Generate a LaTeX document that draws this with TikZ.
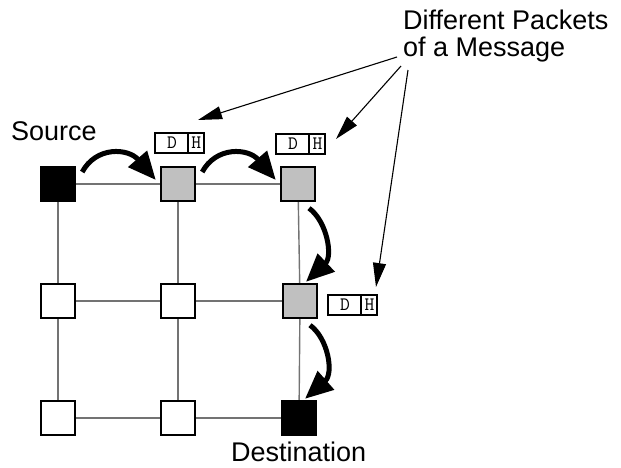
\documentclass[tikz,border=0pt]{standalone}
\usepackage{fontspec}
\setmainfont{Liberation Sans}
\usetikzlibrary{arrows.meta,backgrounds}

\definecolor{busygray}{RGB}{192,192,192}
\definecolor{linkgray}{RGB}{115,115,115}

\tikzset{
  router/.style={draw=black, line width=2.4pt, minimum size=34pt, inner sep=0pt},
  idle/.style={router, fill=white},
  busy/.style={router, fill=busygray},
  endpoint/.style={router, fill=black},
  link/.style={draw=linkgray, line width=1.4pt},
  packet/.style={draw=black, line width=1.8pt, inner sep=0pt, minimum height=20pt,
                 fill=white, font=\ttfamily\fontsize{19}{19}\selectfont},
  caption/.style={inner sep=0pt, font=\fontsize{27}{27}\selectfont},
  hop/.style={line width=5pt, -{Triangle[length=28pt,width=24pt]}},
  pointer/.style={line width=1.1pt, -{Triangle[length=24pt,width=13pt]}}
}

\begin{document}
\begin{tikzpicture}[x=1pt, y=-1pt]
  \useasboundingbox (0,0) rectangle (621,467);

  % routers of the 3x3 mesh
  \node[endpoint] (n11) at (58,184) {};
  \node[busy]     (n12) at (178,184) {};
  \node[busy]     (n13) at (298,184) {};
  \node[idle]     (n21) at (58,301) {};
  \node[idle]     (n22) at (178,301) {};
  \node[busy]     (n23) at (300,301) {};
  \node[idle]     (n31) at (58,418) {};
  \node[idle]     (n32) at (178,418) {};
  \node[endpoint] (n33) at (299,418) {};

  % mesh links, behind the routers
  \begin{scope}[on background layer]
    \draw[link] (n11) -- (n12) -- (n13);
    \draw[link] (n21) -- (n22) -- (n23);
    \draw[link] (n31) -- (n32) -- (n33);
    \draw[link] (n11) -- (n21) -- (n31);
    \draw[link] (n12) -- (n22) -- (n32);
    \draw[link] (n13) -- (n23) -- (n33);
  \end{scope}

  % packets: data part and header part
  \node[packet, anchor=north west] (pk1) at (154,132) {\makebox[34pt]{D}\makebox[15pt]{H}};
  \node[packet, anchor=north west] (pk2) at (275,133) {\makebox[34pt]{D}\makebox[15pt]{H}};
  \node[packet, anchor=north west] (pk3) at (327,294) {\makebox[34pt]{D}\makebox[15pt]{H}};
  \foreach \p in {pk1,pk2,pk3}
    \draw[line width=1.2pt] ([xshift=34pt]\p.north west) -- ([xshift=34pt]\p.south west);

  % labels
  \node[caption, anchor=base west] (src) at (11,140) {Source};
  \node[caption, anchor=base west] (dst) at (231,461.5) {Destination};
  \node[caption, anchor=base west] (msgA) at (403,29.5) {Different Packets};
  \node[caption, anchor=base west] (msgB) at (403,56.5) {of a Message};

  % pointers from the label to the packets
  \coordinate (m1) at (397,57);
  \coordinate (m2) at (401,66);
  \coordinate (m3) at (408,70);
  \coordinate (t1) at (198,120);
  \coordinate (t2) at (336,139);
  \coordinate (t3) at (376,287);
  \draw[pointer] (m1) -- (t1);
  \draw[pointer] (m2) -- (t2);
  \draw[pointer] (m3) -- (t3);

  % hops of the packets along the route
  \draw[hop] ([shift={(6,-12)}]n11.east) .. controls ([shift={(20,-38)}]n11.east) and ([shift={(52,-36)}]n11.east) .. ([shift={(-4,-4)}]n12.west);
  \draw[hop] ([shift={(6,-12)}]n12.east) .. controls ([shift={(20,-38)}]n12.east) and ([shift={(52,-36)}]n12.east) .. ([shift={(-4,-4)}]n13.west);
  \draw[hop] ([shift={(11,6)}]n13.south) .. controls ([shift={(29,19)}]n13.south) and ([shift={(35,54)}]n13.south) .. ([shift={(6,-1)}]n23.north);
  \draw[hop] ([shift={(10,6)}]n23.south) .. controls ([shift={(28,19)}]n23.south) and ([shift={(34,54)}]n23.south) .. ([shift={(6,-1)}]n33.north);
\end{tikzpicture}
\end{document}
